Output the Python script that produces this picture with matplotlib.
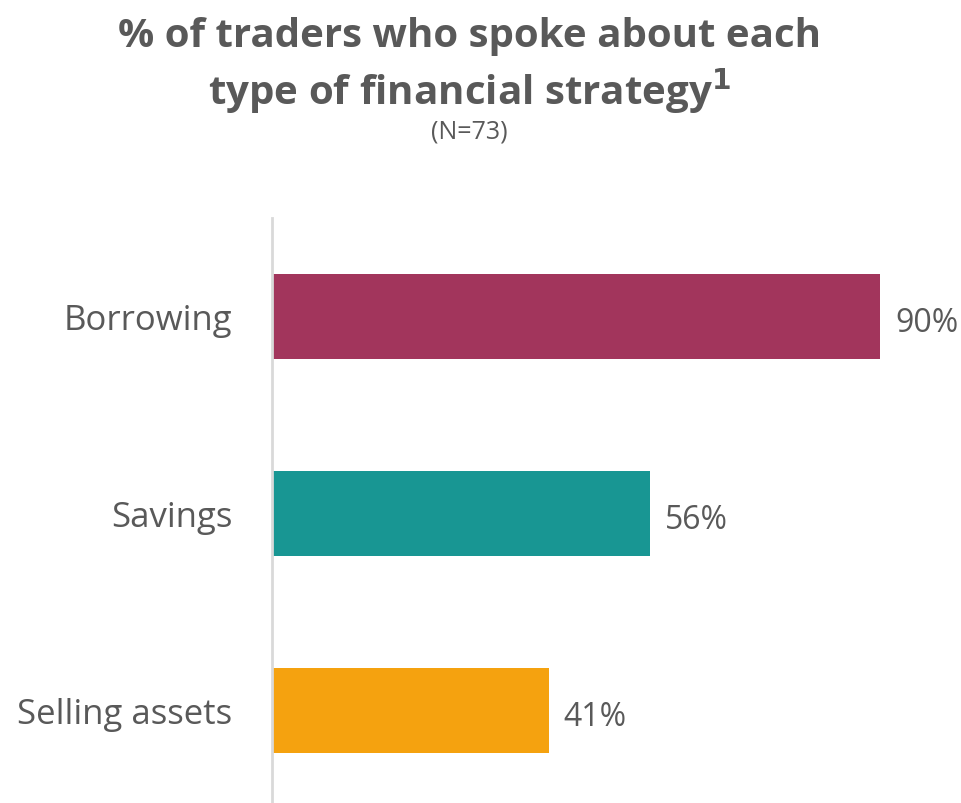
import matplotlib
matplotlib.use("Agg")
import matplotlib.pyplot as plt

categories = ["Borrowing", "Savings", "Selling assets"]
values = [90, 56, 41]
colors = ["#A2355C", "#189693", "#F5A20F"]

TEXT = "#595959"
plt.rcParams['font.family'] = ['Open Sans', 'DejaVu Sans']

fig = plt.figure(figsize=(9.61, 8.04), dpi=100)
ax = fig.add_axes([272 / 961, 0.0, 0.703, (804 - 219) / 804])

y = list(range(len(categories)))
ax.barh(y, values, height=0.435, color=colors, left=0)
ax.set_xlim(0, 100)
ax.set_ylim(2.47, -0.5)

for yi, v in zip(y, values):
    ax.text(v + 2.2, yi + 0.03, f"{v}%", va="center", ha="left",
            fontsize=23, color=TEXT)

ax.set_yticks(y)
ax.set_yticklabels(categories, fontsize=25, color=TEXT)
ax.tick_params(axis="y", length=0, pad=28.5)
ax.set_xticks([])
for s in ["top", "right", "bottom"]:
    ax.spines[s].set_visible(False)
ax.spines["left"].set_color("#D9D9D9")
ax.spines["left"].set_linewidth(2)

fig.text(0.489, 0.955, "% of traders who spoke about each", ha="center", va="center",
         fontsize=29, fontweight="bold", color=TEXT)
fig.text(0.489, 0.887, r"type of financial strategy$^{\mathbf{1}}$", ha="center", va="center",
         fontsize=29, fontweight="bold", color=TEXT)
fig.text(0.488, 0.836, "(N=73)", ha="center", va="center", fontsize=18, color=TEXT)

fig.savefig("out.png", dpi=100)
